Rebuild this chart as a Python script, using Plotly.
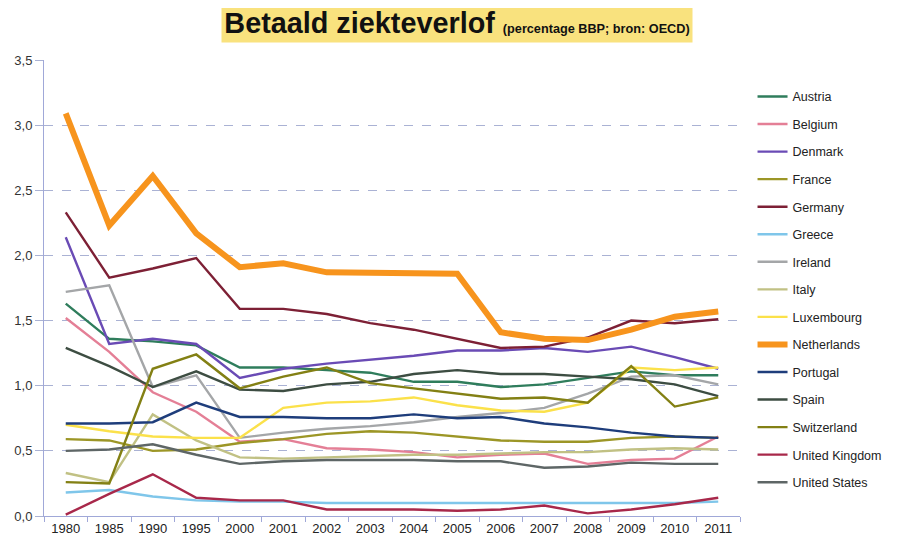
import plotly.graph_objects as go

years = ["1980", "1985", "1990", "1995", "2000", "2001", "2002", "2003", "2004",
         "2005", "2006", "2007", "2008", "2009", "2010", "2011"]
ytick_vals = [0, 0.5, 1.0, 1.5, 2.0, 2.5, 3.0, 3.5]
ytick_text = ["0,0", "0,5", "1,0", "1,5", "2,0", "2,5", "3,0", "3,5"]

austria = [1.63, 1.36, 1.34, 1.31, 1.14, 1.14, 1.12, 1.10, 1.03, 1.03, 0.99, 1.01, 1.06, 1.11, 1.08, 1.08]
belgium = [1.52, 1.26, 0.95, 0.80, 0.57, 0.59, 0.52, 0.51, 0.49, 0.45, 0.47, 0.48, 0.40, 0.43, 0.44, 0.61]
denmark = [2.14, 1.32, 1.36, 1.32, 1.06, 1.13, 1.17, 1.20, 1.23, 1.27, 1.27, 1.29, 1.26, 1.30, 1.22, 1.13]
france = [0.59, 0.58, 0.50, 0.51, 0.56, 0.59, 0.63, 0.65, 0.64, 0.61, 0.58, 0.57, 0.57, 0.60, 0.61, 0.60]
germany = [2.33, 1.83, 1.90, 1.98, 1.59, 1.59, 1.55, 1.48, 1.43, 1.36, 1.29, 1.30, 1.37, 1.50, 1.48, 1.51]
greece = [0.18, 0.20, 0.15, 0.12, 0.11, 0.11, 0.10, 0.10, 0.10, 0.10, 0.10, 0.10, 0.10, 0.10, 0.10, 0.11]
ireland = [1.72, 1.77, 0.99, 1.08, 0.60, 0.64, 0.67, 0.69, 0.72, 0.76, 0.79, 0.83, 0.94, 1.07, 1.08, 1.01]
italy = [0.33, 0.26, 0.78, 0.58, 0.45, 0.44, 0.45, 0.46, 0.47, 0.47, 0.48, 0.49, 0.49, 0.51, 0.52, 0.51]
luxembourg = [0.70, 0.65, 0.61, 0.60, 0.60, 0.83, 0.87, 0.88, 0.91, 0.85, 0.81, 0.80, 0.87, 1.14, 1.12, 1.14]
netherlands = [3.09, 2.23, 2.61, 2.17, 1.91, 1.94, 1.87, 1.87, 1.87, 1.86, 1.41, 1.36, 1.35, 1.43, 1.53, 1.57]
portugal = [0.71, 0.71, 0.72, 0.87, 0.76, 0.76, 0.75, 0.75, 0.78, 0.75, 0.76, 0.71, 0.68, 0.64, 0.61, 0.60]
spain = [1.29, 1.15, 0.99, 1.11, 0.97, 0.96, 1.01, 1.03, 1.09, 1.12, 1.09, 1.09, 1.07, 1.05, 1.01, 0.92]
switzerland = [0.26, 0.25, 1.13, 1.24, 0.98, 1.07, 1.14, 1.02, 0.98, 0.94, 0.90, 0.91, 0.87, 1.15, 0.84, 0.91]
uk = [0.01, 0.17, 0.32, 0.14, 0.12, 0.12, 0.05, 0.05, 0.05, 0.04, 0.05, 0.08, 0.02, 0.05, 0.09, 0.14]
us = [0.50, 0.51, 0.55, 0.47, 0.40, 0.42, 0.43, 0.43, 0.43, 0.42, 0.42, 0.37, 0.38, 0.41, 0.40, 0.40]

countries = ["Austria", "Belgium", "Denmark", "France", "Germany", "Greece", "Ireland", "Italy",
             "Luxembourg", "Netherlands", "Portugal", "Spain", "Switzerland",
             "United Kingdom", "United States"]
series = [austria, belgium, denmark, france, germany, greece, ireland, italy,
          luxembourg, netherlands, portugal, spain, switzerland, uk, us]
colors = ["#2f7d5c", "#e47f96", "#6a4bb5", "#9c9626", "#7d2035", "#7fc6ea", "#a4a6a8", "#c1c184",
          "#fbe14a", "#f7941d", "#1e3d7b", "#3d4d42", "#838014", "#a8284a", "#5e6666"]

fig = go.Figure()
for name, vals, col in zip(countries, series, colors):
    w = 6 if name == "Netherlands" else 2.4
    fig.add_trace(go.Scatter(x=years, y=vals, mode="lines", name=name,
                             legendgroup=name,
                             line=dict(color=col, width=w)))

fig.update_layout(
    width=904, height=544,
    margin=dict(l=36, r=172, t=52, b=36),
    paper_bgcolor="white", plot_bgcolor="white",
    font=dict(family="Liberation Sans, Arial, sans-serif", size=13, color="#222"),
    showlegend=True,
    legend=dict(x=1.018, y=0.952, xanchor="left", yanchor="top",
                font=dict(size=12.5, color="#222"), tracegroupgap=8.3,
                bgcolor="rgba(0,0,0,0)"),
    annotations=[dict(
        x=0.593, y=1.0, xref="paper", yref="paper", yanchor="bottom", xanchor="center",
        yshift=17,
        text="<b>Betaald ziekteverlof</b> <span style='font-size:12.7px'><b>(percentage BBP; bron: OECD)</b></span>",
        showarrow=False, bgcolor="#f9e27e", width=468, height=36,
        font=dict(family="Liberation Sans, Arial, sans-serif", size=28.8, color="#111"),
    )],
)
fig.update_xaxes(type="category", range=[-0.5, 15.5], automargin=False,
                 showgrid=False, showline=True, linecolor="#a0a8d8",
                 linewidth=1, ticks="outside", tickson="boundaries", ticklen=5,
                 tickcolor="#a0a8d8", tickfont=dict(size=13, color="#222"))
fig.update_yaxes(range=[0, 3.5], tickvals=ytick_vals, ticktext=ytick_text, automargin=False,
                 showgrid=True, gridcolor="#aab2d4", griddash="dash", gridwidth=1,
                 showline=True, linecolor="#a0a8d8", linewidth=1,
                 ticks="outside", ticklen=8, tickcolor="#aab2d4",
                 tickfont=dict(size=13, color="#333"), zeroline=False)

fig.write_html("out.html")
